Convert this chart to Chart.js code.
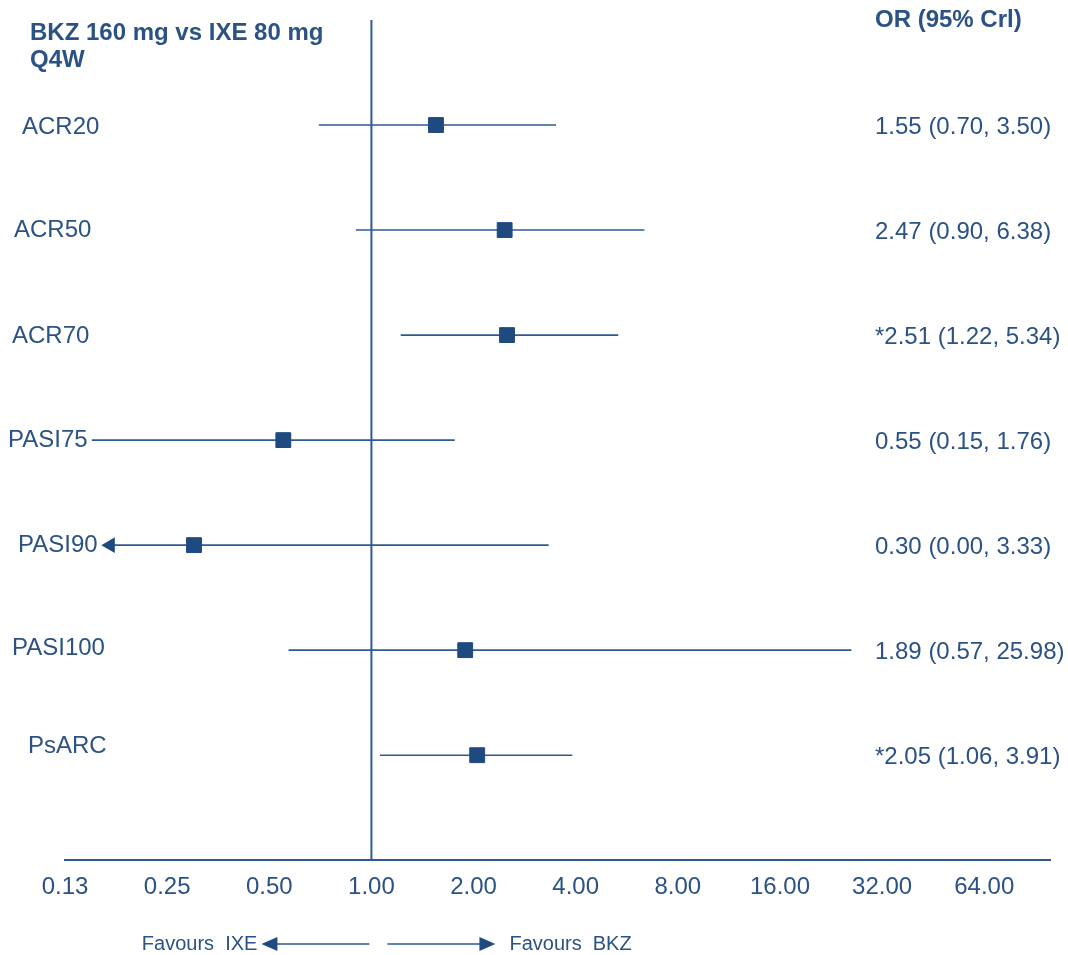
<!DOCTYPE html>
<html>
<head>
<meta charset="utf-8">
<script src="https://cdn.jsdelivr.net/npm/chart.js@4/dist/chart.umd.min.js"></script>
<style>
html, body { margin: 0; padding: 0; background: #ffffff; }
#wrap { width: 1068px; height: 955px; }
</style>
</head>
<body>
<div id="wrap"><canvas id="forestChart"></canvas></div>
<script>
// data
const outcomes = ['ACR20', 'ACR50', 'ACR70', 'PASI75', 'PASI90', 'PASI100', 'PsARC'];
const oddsRatio = [1.55, 2.47, 2.51, 0.55, 0.30, 1.89, 2.05];
const lowerCrI = [0.70, 0.90, 1.22, 0.15, 0.00, 0.57, 1.06];
const upperCrI = [3.50, 6.38, 5.34, 1.76, 3.33, 25.98, 3.91];
const significant = [false, false, true, false, false, false, true];
const tickValues = [0.125, 0.25, 0.5, 1, 2, 4, 8, 16, 32, 64];
const tickLabels = ['0.13', '0.25', '0.50', '1.00', '2.00', '4.00', '8.00', '16.00', '32.00', '64.00'];

// layout / style
const lineColor = '#2e5a92';
const markerColor = '#1f4a80';
const textColor = '#2b5284';
const fontFamily = '"Liberation Sans", Arial, sans-serif';
const arrowValue = 0.17;   // where a lower bound of 0 gets cut with an arrow
const labelLeft = [22, 14, 12, 8, 18, 12, 28];
const labelShift = [2, 0, 1, 0, 0, -2, -9];

const rowY = outcomes.map((_, i) => i + 1);

const ciSets = outcomes.map((name, i) => ({
    type: 'line',
    label: name,
    data: [
        {x: lowerCrI[i] > 0 ? lowerCrI[i] : arrowValue, y: rowY[i]},
        {x: upperCrI[i], y: rowY[i]}
    ],
    borderColor: lineColor,
    borderWidth: 1.6,
    pointRadius: 0,
    order: 2
}));

const arrowPoints = [];
outcomes.forEach((_, i) => {
    if (lowerCrI[i] <= 0) arrowPoints.push({x: arrowValue, y: rowY[i]});
});

const forestPlugin = {
    id: 'forestText',
    afterDraw(chart) {
        const {ctx, scales: {x, y}} = chart;
        ctx.save();
        ctx.fillStyle = textColor;
        ctx.strokeStyle = lineColor;
        ctx.textBaseline = 'middle';
        ctx.textAlign = 'left';

        ctx.font = 'bold 24px ' + fontFamily;
        ctx.fillText('BKZ 160 mg vs IXE 80 mg', 30, 33);
        ctx.fillText('Q4W', 30, 60);
        ctx.fillText('OR (95% Crl)', 875, 20);

        ctx.font = '24px ' + fontFamily;
        outcomes.forEach((name, i) => {
            const py = y.getPixelForValue(rowY[i]);
            ctx.fillText(name, labelLeft[i], py + labelShift[i]);
            const txt = (significant[i] ? '*' : '') + oddsRatio[i].toFixed(2) +
                ' (' + lowerCrI[i].toFixed(2) + ', ' + upperCrI[i].toFixed(2) + ')';
            ctx.fillText(txt, 875, py + 2);
        });

        // favours arrows under the axis
        const cx = x.getPixelForValue(1);
        const fy = 944;
        ctx.font = '20px ' + fontFamily;
        ctx.lineWidth = 1.5;
        ctx.beginPath();
        ctx.moveTo(cx - 2, fy);
        ctx.lineTo(cx - 95, fy);
        ctx.moveTo(cx + 16, fy);
        ctx.lineTo(cx + 110, fy);
        ctx.stroke();
        ctx.fillStyle = markerColor;
        ctx.beginPath();
        ctx.moveTo(cx - 110, fy);
        ctx.lineTo(cx - 94, fy - 7);
        ctx.lineTo(cx - 94, fy + 7);
        ctx.closePath();
        ctx.fill();
        ctx.beginPath();
        ctx.moveTo(cx + 124, fy);
        ctx.lineTo(cx + 108, fy - 7);
        ctx.lineTo(cx + 108, fy + 7);
        ctx.closePath();
        ctx.fill();
        ctx.fillStyle = textColor;
        ctx.textAlign = 'right';
        ctx.fillText('Favours  IXE', cx - 114, fy);
        ctx.textAlign = 'left';
        ctx.fillText('Favours  BKZ', cx + 138, fy);
        ctx.restore();
    }
};

const config = {
    type: 'scatter',
    data: {
        datasets: [
            {
                type: 'line',
                label: 'null',
                data: [{x: 1, y: 0}, {x: 1, y: 8}],
                borderColor: lineColor,
                borderWidth: 2,
                pointRadius: 0,
                order: 3
            },
            ...ciSets,
            {
                label: 'OR',
                data: outcomes.map((_, i) => ({x: oddsRatio[i], y: rowY[i]})),
                pointStyle: 'rect',
                pointRadius: 10.5,
                pointHoverRadius: 10.5,
                backgroundColor: markerColor,
                borderColor: markerColor,
                borderWidth: 1,
                order: 1
            },
            {
                label: 'cut',
                data: arrowPoints,
                pointStyle: 'triangle',
                rotation: -90,
                pointRadius: 9,
                backgroundColor: markerColor,
                borderColor: markerColor,
                borderWidth: 0,
                order: 1
            }
        ]
    },
    options: {
        responsive: true,
        maintainAspectRatio: false,
        animation: false,
        layout: {
            padding: {top: 20, left: 65, right: 18, bottom: 40}
        },
        plugins: {
            legend: {display: false},
            tooltip: {enabled: false}
        },
        scales: {
            x: {
                type: 'logarithmic',
                min: 0.125,
                max: 100,
                afterBuildTicks: (scale) => {
                    scale.ticks = tickValues.map(v => ({value: v}));
                },
                grid: {display: false, drawTicks: false},
                border: {display: true, color: lineColor, width: 2},
                ticks: {
                    autoSkip: false,
                    maxRotation: 0,
                    minRotation: 0,
                    padding: 13,
                    color: textColor,
                    font: {family: fontFamily, size: 24},
                    callback: (value, index) => tickLabels[index]
                }
            },
            y: {
                type: 'linear',
                min: 0,
                max: 8,
                reverse: true,
                display: false
            }
        }
    },
    plugins: [forestPlugin]
};

const forestChart = new Chart(
    document.getElementById('forestChart'),
    config
);
</script>
</body>
</html>
